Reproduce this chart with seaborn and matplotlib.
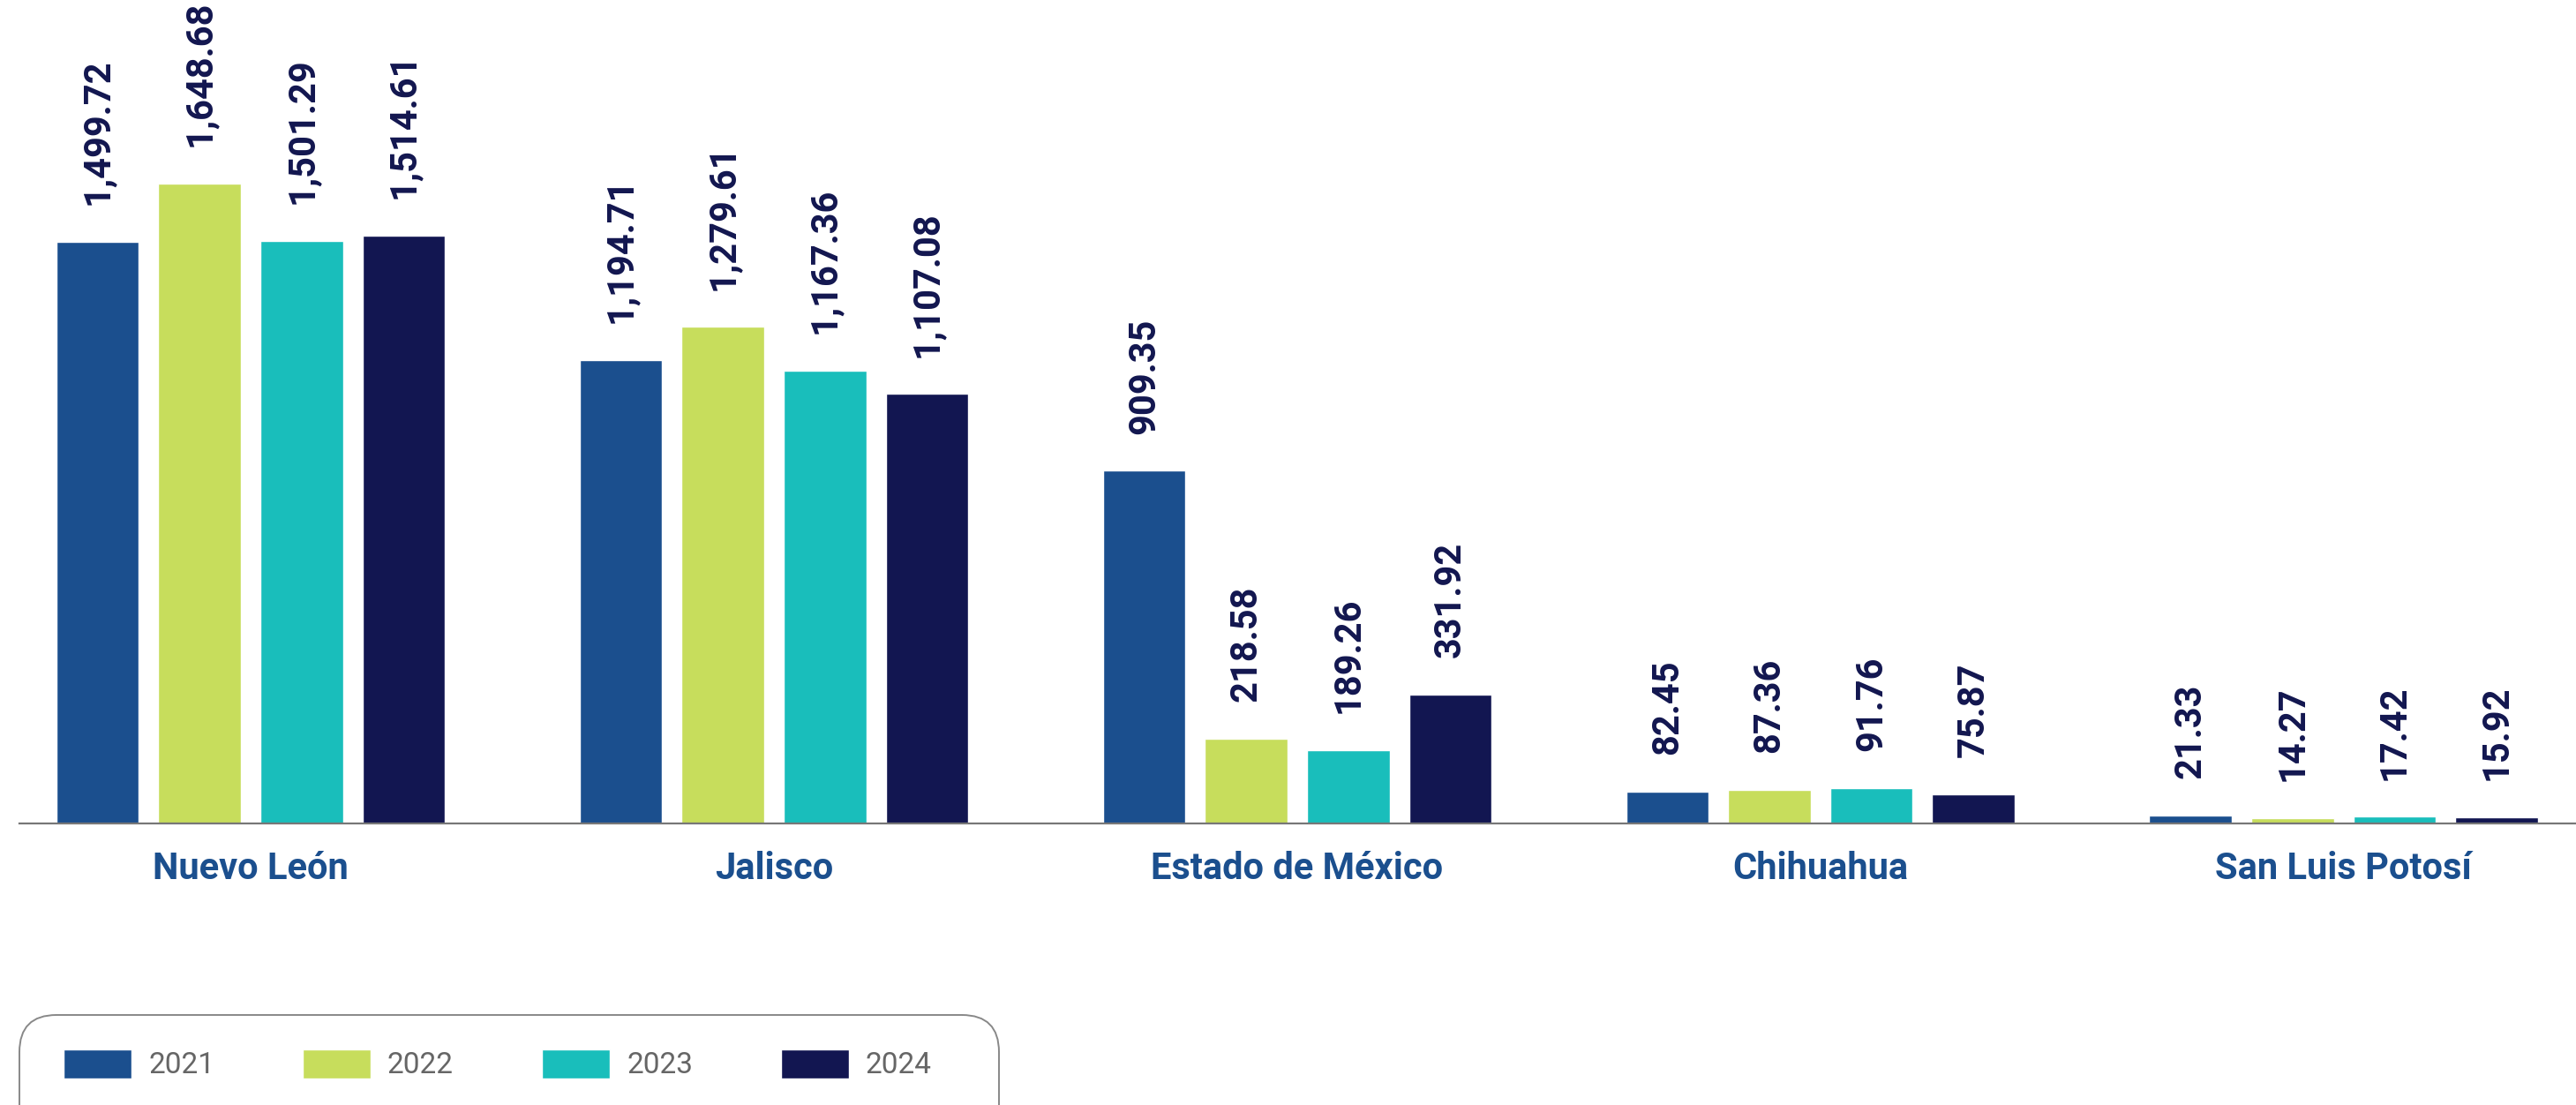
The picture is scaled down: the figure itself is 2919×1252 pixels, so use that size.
import matplotlib
matplotlib.use("Agg")
import matplotlib.pyplot as plt
from matplotlib.patches import FancyBboxPatch
import seaborn as sns
import pandas as pd

# ---- data ----
estados = ["Nuevo León", "Jalisco", "Estado de México", "Chihuahua", "San Luis Potosí"]
years = ["2021", "2022", "2023", "2024"]
v2021 = [1499.72, 1194.71, 909.35, 82.45, 21.33]
v2022 = [1648.68, 1279.61, 218.58, 87.36, 14.27]
v2023 = [1501.29, 1167.36, 189.26, 91.76, 17.42]
v2024 = [1514.61, 1107.08, 331.92, 75.87, 15.92]
colors = ["#1B4F8E", "#C7DD5C", "#19BEBB", "#121651"]

rows = []
for yr, vals in zip(years, [v2021, v2022, v2023, v2024]):
    for e, v in zip(estados, vals):
        rows.append({"estado": e, "anio": yr, "valor": v})
df = pd.DataFrame(rows)

sns.set_theme(style="white")
plt.rcParams["font.family"] = ["Roboto", "DejaVu Sans"]

W, H = 2919, 1252
fig = plt.figure(figsize=(W / 100, H / 100), dpi=100)
ax = fig.add_axes([22 / W, 1 - 933 / H, 1 - 22 / W, 933 / H])

sns.barplot(data=df, x="estado", y="valor", hue="anio", order=estados,
            hue_order=years, palette=colors, width=0.78, gap=0.19,
            saturation=1, ax=ax, legend=True)

ax.set_ylim(0, 2122)
ax.set_xlim(-0.442, 4.444)
ax.set_xlabel("")
ax.set_ylabel("")
ax.set_yticks([])
for s in ["top", "right", "left"]:
    ax.spines[s].set_visible(False)
ax.spines["bottom"].set_color("#777777")
ax.spines["bottom"].set_linewidth(1.6)
ax.tick_params(axis="x", length=0, pad=22)
for lbl in ax.get_xticklabels():
    lbl.set_fontsize(30)
    lbl.set_fontweight("bold")
    lbl.set_color("#1B4F8E")

# value labels
for cont in ax.containers:
    for p in cont.patches:
        h = p.get_height()
        ax.annotate(f"{h:,.2f}", (p.get_x() + p.get_width() / 2, h),
                    xytext=(0, 30), textcoords="offset points",
                    ha="center", va="bottom", rotation=90,
                    fontsize=30, fontweight="bold", color="#12164F",
                    annotation_clip=False)

# legend
handles, labels = ax.get_legend_handles_labels()
ax.get_legend().remove()
leg = fig.legend(handles, labels, loc="center left",
                 bbox_to_anchor=(72 / W, 1 - 1206 / H), ncol=4,
                 frameon=False, fontsize=24, handlelength=2.31,
                 handleheight=1.15, handletextpad=0.57, columnspacing=3.0,
                 borderpad=0, borderaxespad=0)
for t in leg.get_texts():
    t.set_color("#666666")

box = FancyBboxPatch((0.22, -0.6), 11.10, 12.52 - 11.50 + 0.6,
                     boxstyle="round,pad=0,rounding_size=0.42",
                     transform=fig.dpi_scale_trans, facecolor="none",
                     edgecolor="#888888", linewidth=1.4, clip_on=False)
fig.patches.append(box)

fig.savefig("out.png", dpi=100)
